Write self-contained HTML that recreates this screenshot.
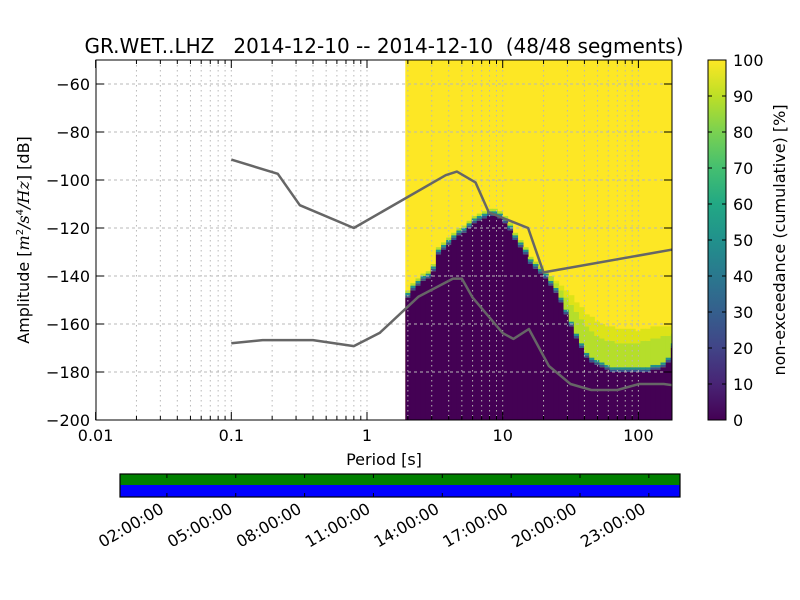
<!DOCTYPE html>
<html><head><meta charset="utf-8"><style>
body{margin:0;background:#fff;}
svg{display:block;font-family:"DejaVu Sans","Liberation Sans",sans-serif;}
text{white-space:pre;}
</style></head><body>
<svg id="c" width="800" height="600" viewBox="0 0 800 600" xmlns="http://www.w3.org/2000/svg">
<defs>
<linearGradient id="vir" x1="0" y1="1" x2="0" y2="0">
<stop offset="0" stop-color="#440154"/><stop offset="0.1" stop-color="#482475"/><stop offset="0.2" stop-color="#414487"/><stop offset="0.3" stop-color="#355f8d"/><stop offset="0.4" stop-color="#2a788e"/><stop offset="0.5" stop-color="#21918c"/><stop offset="0.6" stop-color="#22a884"/><stop offset="0.7" stop-color="#44bf70"/><stop offset="0.8" stop-color="#7ad151"/><stop offset="0.9" stop-color="#bddf26"/><stop offset="1" stop-color="#fde725"/>
</linearGradient>
<clipPath id="pc"><rect x="96" y="60" width="576" height="360"/></clipPath>
</defs>
<text x="384" y="53" font-size="20" text-anchor="middle" xml:space="preserve">GR.WET..LHZ   2014-12-10 -- 2014-12-10  (48/48 segments)</text>
<g id="heat" clip-path="url(#pc)"></g>
<g id="grid" clip-path="url(#pc)"></g>
<g id="models" clip-path="url(#pc)"></g>
<rect x="96" y="60" width="576" height="360" fill="none" stroke="#000" stroke-width="1"/>
<g id="ticks"></g>
<text x="384" y="465" font-size="16" text-anchor="middle">Period [s]</text>
<text transform="translate(29,240) rotate(-90)" font-size="16" text-anchor="middle">Amplitude [<tspan font-style="italic" font-family="DejaVu Serif, serif">m</tspan><tspan font-size="10" dy="-6">2</tspan><tspan dy="6" font-style="italic">/</tspan><tspan font-style="italic" font-family="DejaVu Serif, serif">s</tspan><tspan font-size="10" dy="-6">4</tspan><tspan dy="6" font-style="italic">/</tspan><tspan font-style="italic" font-family="DejaVu Serif, serif">Hz</tspan>] [dB]</text>
<rect x="708" y="60" width="18" height="360" fill="url(#vir)" stroke="#000"/>
<g id="cbt"></g>
<text transform="translate(785,240) rotate(-90)" font-size="16" text-anchor="middle">non-exceedance (cumulative) [%]</text>
<g>
<rect x="120" y="474" width="560" height="11" fill="#008000"/>
<rect x="120" y="485" width="560" height="12" fill="#0000ff"/>
<rect x="120" y="474" width="560" height="23" fill="none" stroke="#000" stroke-width="1.2"/>
</g>
<g id="tl"></g>
</svg>
<script>
const NS="http://www.w3.org/2000/svg";
const xTicks=[0.01,0.1,1,10,100];
const xTickLabels=["0.01","0.1","1","10","100"];
const yTicks=[-200,-180,-160,-140,-120,-100,-80,-60];
const cbTicks=[0,10,20,30,40,50,60,70,80,90,100];
const colPeriods=[2,2.18,2.38,2.59,2.83,3.08,3.36,3.67,4,4.36,4.76,5.19,5.66,6.17,6.73,7.34,8,8.72,9.51,10.4,11.3,12.3,13.5,14.7,16,17.4,19,20.7,22.6,24.7,26.9,29.3,32,34.9,38.1,41.5,45.3,49.4,53.8,58.7,64,69.8,76.1,83,90.5,98.7,108,117,128,140,152,166,181];
const darkTop=[-149,-146,-144,-142,-141,-138,-131,-129,-127,-125,-123,-122,-120,-118,-117,-116,-115,-115,-116,-118,-121,-125,-128,-131,-135,-137,-139,-141,-144,-147,-151,-156,-161,-166,-170,-174,-176,-177,-178,-179,-180,-180,-180,-180,-180,-180,-180,-180,-179,-179,-178,-176,-170];
const greenTop=[-146,-143,-141,-139,-138,-135,-128,-126,-124,-122,-120,-119,-117,-115,-114,-113,-112,-112,-113,-115,-118,-122,-125,-128,-132,-134,-136,-138,-140,-143,-146,-149,-152,-155,-158,-161,-163,-165,-166,-167,-167,-168,-168,-168,-168,-168,-167,-167,-166,-166,-165,-165,-164];
const paleExtra=[0,0,0,0,0,0,0,0,0,0,0,0,0,0,0,0,0,0,0,0,0,0,0,0,0,0,0,0,0,1,2,3,4,4,5,5,6,6,6,6,6,6,6,6,6,5,5,5,5,5,4,4,4];
const nhnmP=[0.1,0.22,0.32,0.8,3.8,4.6,6.3,7.9,15.4,20,354.8];
const nhnmDb=[-91.5,-97.4,-110.5,-120,-98,-96.5,-101,-113.5,-120,-138.5,-126];
const nlnmP=[0.1,0.17,0.4,0.8,1.24,2.4,4.3,5,6,10,12,15.6,21.9,31.6,45,70,101,154,328];
const nlnmDb=[-168,-166.7,-166.7,-169.2,-163.7,-148.6,-141.1,-141.1,-149,-163.8,-166.2,-162.1,-177.5,-185,-187.5,-187.5,-185,-185,-187.5];
const timeLabels=["02:00:00","05:00:00","08:00:00","11:00:00","14:00:00","17:00:00","20:00:00","23:00:00"];
const timeHours=[2,5,8,11,14,17,20,23];

const X=p=>367+135.7*Math.log10(p);
const Y=d=>60+(-50-d)*2.4;
const TX=h=>121+22.95*h;
function mk(tag,attrs,parent){const e=document.createElementNS(NS,tag);for(const k in attrs)e.setAttribute(k,attrs[k]);parent.appendChild(e);return e;}

const heat=document.getElementById('heat');
const half=Math.pow(2,1/16);
const bg=mk('rect',{x:X(colPeriods[0]/half),y:60,width:672-X(colPeriods[0]/half)+2,height:360,fill:'#fde725'},heat);


colPeriods.forEach((p,i)=>{
  const x0=X(p/half),x1=X(p*half),w=x1-x0+0.6;
  const g=mk('g',{},heat);
  
  
  const d=darkTop[i],gt=greenTop[i],pe=paleExtra[i];
  mk('rect',{x:x0,y:Y(d),width:w,height:Y(-200)-Y(d)+1,fill:'#440154'},g);
  mk('rect',{x:x0,y:Y(d+1),width:w,height:2.4,fill:'#3b528b'},g);
  mk('rect',{x:x0,y:Y(d+2),width:w,height:2.4,fill:'#21918c'},g);
  if(gt>d+2) mk('rect',{x:x0,y:Y(gt),width:w,height:Y(d+2)-Y(gt),fill:'#b5de2b'},g);
  if(pe>0) mk('rect',{x:x0,y:Y(gt+pe),width:w,height:pe*2.4,fill:'#dde318'},g);
});

const grid=document.getElementById('grid');
for(let e=-2;e<=2;e++)for(let m=1;m<=9;m++){const p=m*Math.pow(10,e);const x=X(p);if(x>96&&x<672){const l=mk('line',{x1:x,x2:x,y1:60,y2:420,stroke:'#b8b8b8','stroke-dasharray':'1.5,3.5','stroke-width':1},grid);}}
yTicks.forEach(v=>{const y=Y(v);const l=mk('line',{x1:96,x2:672,y1:y,y2:y,stroke:'#b8b8b8','stroke-dasharray':'3,3','stroke-width':1},grid);});

const models=document.getElementById('models');
function line(P,D,name){const pts=P.map((p,i)=>X(p).toFixed(1)+','+Y(D[i]).toFixed(1)).join(' ');const pl=mk('polyline',{points:pts,fill:'none',stroke:'#666','stroke-width':2.5,'stroke-linejoin':'round'},models);}
line(nhnmP,nhnmDb,'nhnm-line');
line(nlnmP,nlnmDb,'nlnm-line');

const ticks=document.getElementById('ticks');
xTicks.forEach((p,i)=>{const x=X(p);mk('line',{x1:x,x2:x,y1:420,y2:412,stroke:'#000'},ticks);mk('line',{x1:x,x2:x,y1:60,y2:68,stroke:'#000'},ticks);
 const t=mk('text',{x:x,y:441,'font-size':16,'text-anchor':'middle'},ticks);t.textContent=xTickLabels[i];});
for(let e=-2;e<=2;e++)for(let m=2;m<=9;m++){const x=X(m*Math.pow(10,e));if(x<672){mk('line',{x1:x,x2:x,y1:420,y2:416,stroke:'#000'},ticks);mk('line',{x1:x,x2:x,y1:60,y2:64,stroke:'#000'},ticks);}}
yTicks.forEach(v=>{const y=Y(v);mk('line',{x1:96,x2:104,y1:y,y2:y,stroke:'#000'},ticks);mk('line',{x1:664,x2:672,y1:y,y2:y,stroke:'#000'},ticks);
 const t=mk('text',{x:90,y:y+6,'font-size':16,'text-anchor':'end'},ticks);t.textContent='\u2212'+Math.abs(v);});

const cbt=document.getElementById('cbt');
cbTicks.forEach(v=>{const y=420-v*3.6;mk('line',{x1:708,x2:712,y1:y,y2:y,stroke:'#000'},cbt);mk('line',{x1:722,x2:726,y1:y,y2:y,stroke:'#000'},cbt);
 const t=mk('text',{x:733,y:y+6,'font-size':16},cbt);t.textContent=v;});

const tl=document.getElementById('tl');
timeHours.forEach((h,i)=>{const x=TX(h);mk('line',{x1:x,x2:x,y1:474,y2:478,stroke:'#000'},tl);mk('line',{x1:x,x2:x,y1:493,y2:497,stroke:'#000'},tl);
 const t=mk('text',{transform:'translate('+(x-2)+',512) rotate(-30)','font-size':16,'text-anchor':'end'},tl);t.textContent=timeLabels[i];});
</script>
</body></html>
